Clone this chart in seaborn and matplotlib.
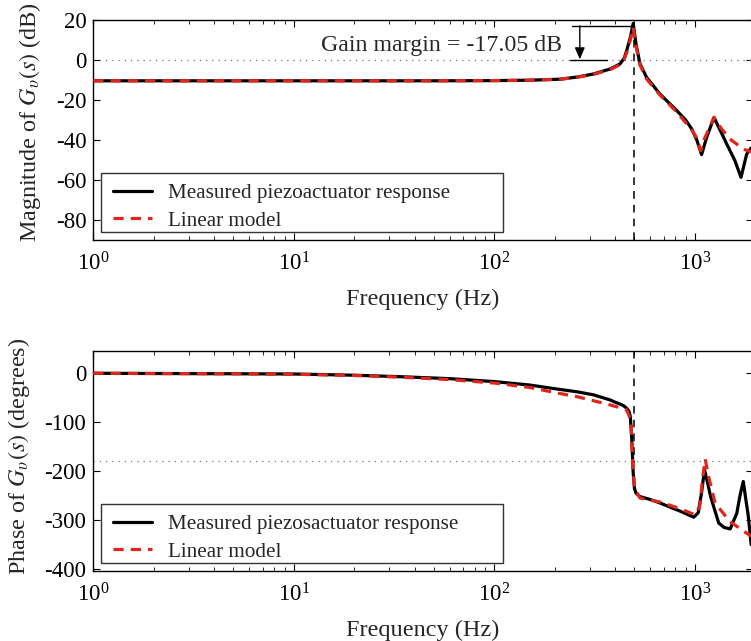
import numpy as np
import pandas as pd
import matplotlib
matplotlib.use("Agg")
import matplotlib.pyplot as plt
from matplotlib.lines import Line2D
from matplotlib.legend_handler import HandlerLine2D
from matplotlib.transforms import Affine2D
from matplotlib.ticker import LogLocator, FixedLocator, NullFormatter
import seaborn as sns

# ---- magnitude response (Hz, dB) ----
mag_meas_f = [1, 2, 5, 10, 20, 50, 100, 150, 213, 260, 312, 378, 423, 445, 457, 477, 493,
              509, 533, 575, 670, 813, 900, 966, 1023, 1081, 1146, 1247, 1443, 1585, 1700,
              1815, 1910]
mag_meas_db = [-10.4, -10.4, -10.4, -10.4, -10.4, -10.4, -10.3, -10.1, -9.6, -8.5, -7.0, -4.5,
               -2.0, 1.0, 4.6, 11.3, 18.3, 8.0, -2.0, -8.7, -17.0, -25.3, -30.0, -34.5, -40.0,
               -47.3, -38.7, -28.7, -42.0, -50.3, -58.7, -47.0, -44.0]

mag_model_f = [1, 2, 5, 10, 20, 50, 100, 150, 213, 260, 312, 378, 423, 445, 457, 477, 493,
               509, 533, 575, 670, 813, 966, 1023, 1070, 1110, 1247, 1350, 1497, 1745, 1910]
mag_model_db = [-10.4, -10.4, -10.4, -10.4, -10.4, -10.4, -10.3, -10.1, -9.6, -8.6, -7.2, -4.8,
                -2.4, 0.5, 3.5, 10.0, 16.3, 7.0, -2.5, -9.5, -17.5, -26.0, -35.0, -39.0, -45.3,
                -40.0, -28.7, -34.0, -39.5, -44.5, -46.0]

# ---- phase response (Hz, degrees) ----
ph_meas_f = [1, 2, 5, 10, 20, 34, 60, 100, 150, 204, 260, 312, 378, 400, 418, 440, 457, 470,
             477, 485, 493, 500, 509, 533, 600, 670, 848, 988, 1040, 1080, 1118, 1160, 1199,
             1316, 1400, 1502, 1620, 1680, 1745, 1800, 1846, 1910]
ph_meas_deg = [0, -0.5, -1, -1.5, -4, -7, -11, -17, -24, -32, -38, -44, -54.5, -59, -62, -66,
               -71.5, -78, -88.5, -136, -204, -235, -245, -252, -258, -265, -282, -294, -285,
               -245, -197, -225, -252, -306, -315, -318, -286, -250, -221, -260, -290, -350]

ph_model_f = [1, 2, 5, 10, 20, 34, 60, 100, 150, 204, 260, 312, 378, 420, 457, 480, 490, 500,
              533, 670, 848, 1000, 1058, 1090, 1127, 1170, 1262, 1496, 1910]
ph_model_deg = [0, -0.5, -1, -2, -4.5, -8, -13, -20, -29, -40, -48, -56, -64.6, -70, -75, -95,
                -180, -235, -255, -263, -277, -289, -272, -220, -175.5, -210, -265, -303, -333]

GAIN_MARGIN_DB = -17.05
CROSSOVER_HZ = 495
LEG_MAG = ["Measured piezoactuator response", "Linear model"]
LEG_PH = ["Measured piezosactuator response", "Linear model"]

RED = "#e0261c"

sns.set_style("ticks", {"xtick.direction": "in", "ytick.direction": "in"})
plt.rcParams["font.family"] = ["Liberation Serif", "DejaVu Serif"]
plt.rcParams["mathtext.fontset"] = "stix"
plt.rcParams["axes.unicode_minus"] = False
plt.rcParams["axes.edgecolor"] = "black"
plt.rcParams["axes.linewidth"] = 1.0

W, H = 751, 641
fig = plt.figure(figsize=(W / 100, H / 100), dpi=100)
AX_L, AX_R = 93.3, 753.0
AX_W = AX_R - AX_L
ax1 = fig.add_axes([AX_L / W, (H - 240) / H, AX_W / W, 220 / H])
ax2 = fig.add_axes([AX_L / W, (H - 571) / H, AX_W / W, 220 / H])

XMAX = 10 ** (AX_W / 200.5)
LEG_FS = 15.2


def draw(ax, f_meas, y_meas, f_mod, y_mod, labels):
    dm = pd.DataFrame({"f": f_meas, "y": y_meas})
    dl = pd.DataFrame({"f": f_mod, "y": y_mod})
    sns.lineplot(data=dm, x="f", y="y", ax=ax, color="black", lw=2.3,
                 estimator=None, sort=False, label=labels[0], zorder=3)
    sns.lineplot(data=dl, x="f", y="y", ax=ax, color=RED, lw=2.3,
                 estimator=None, sort=False, label=labels[1], zorder=4,
                 dashes=False)
    ax.lines[-1].set_linestyle((0, (3.2, 2.2)))
    ax.set_xscale("log")
    ax.set_xlim(1, XMAX)
    ax.xaxis.set_major_locator(LogLocator(base=10, numticks=10))
    ax.xaxis.set_minor_locator(LogLocator(base=10, subs=np.arange(2, 10), numticks=20))
    ax.xaxis.set_minor_formatter(NullFormatter())
    ax.tick_params(axis="both", which="both", direction="in", top=True, right=True,
                   colors="black", labelsize=16.5)
    ax.tick_params(which="major", length=5, width=0.8)
    ax.tick_params(which="minor", length=3, width=0.6)
    ax.tick_params(axis="x", pad=9)
    ax.tick_params(axis="y", pad=5)
    ax.set_xlabel("Frequency (Hz)", fontsize=17.5, labelpad=9.5)
    leg = ax.legend(loc="lower left",
                    bbox_to_anchor=(7.4 / AX_W, 8 / 220, 402.3 / AX_W, 0.3),
                    mode="expand", fontsize=LEG_FS,
                    frameon=True, fancybox=False, edgecolor="black", handlelength=2.14,
                    borderpad=0.28, labelspacing=0.37, borderaxespad=0.0,
                    handletextpad=0.75,
                    handler_map={Line2D: HandlerLine2D(xpad=0.29)})
    leg.get_frame().set_linewidth(1.0)
    # drop the legend rows a few pixels inside their frame
    shift = Affine2D().translate(0, -4.5)
    for t in leg.get_texts():
        t.set_transform(t.get_transform() + shift)
    for ln in leg.get_lines():
        ln.set_transform(ln.get_transform() + shift)
    for sp in ax.spines.values():
        sp.set_color("black")


draw(ax1, mag_meas_f, mag_meas_db, mag_model_f, mag_model_db, LEG_MAG)
draw(ax2, ph_meas_f, ph_meas_deg, ph_model_f, ph_model_deg, LEG_PH)

# magnitude axis
ax1.set_ylim(-90, 20)
ax1.yaxis.set_major_locator(FixedLocator([-80, -60, -40, -20, 0, 20]))
ax1.axhline(0, color="0.45", lw=0.9, ls=(0, (1, 4)), zorder=1)
ax1.plot([CROSSOVER_HZ, CROSSOVER_HZ], [-90, 17], color="black", lw=1.1,
         ls=(0, (5, 4)), zorder=2)
ax1.set_ylabel(r"Magnitude of $G_{\upsilon}(s)$ (dB)", fontsize=17.4, labelpad=9)
ax1.yaxis.label.set_y(0.535)

# gain margin marker
gm_top = -GAIN_MARGIN_DB
ax1.plot([243, 493], [gm_top, gm_top], color="black", lw=1.0, zorder=2)
ax1.plot([239, 365], [0, 0], color="black", lw=1.0, zorder=2)
ax1.annotate("", xy=(267, 0.3), xytext=(267, gm_top),
             arrowprops=dict(arrowstyle="-|>,head_length=0.7,head_width=0.3",
                             color="black", lw=1.0, shrinkA=0, shrinkB=0))
ax1.text(217, 7.0, f"Gain margin = {GAIN_MARGIN_DB:.2f} dB", ha="right", va="center",
         fontsize=17.2)

# phase axis
ax2.set_ylim(-404, 45.5)
ax2.yaxis.set_major_locator(FixedLocator([-400, -300, -200, -100, 0]))
ax2.axhline(-180, color="0.45", lw=0.9, ls=(0, (1, 4)), zorder=1)
ax2.plot([CROSSOVER_HZ, CROSSOVER_HZ], [45.5, -183], color="black", lw=1.1,
         ls=(0, (5, 4)), zorder=2)
ax2.set_ylabel(r"Phase of $G_{\upsilon}(s)$ (degrees)", fontsize=17.4, labelpad=9)
ax2.yaxis.label.set_y(0.52)

fig.savefig("out.png", dpi=100)
